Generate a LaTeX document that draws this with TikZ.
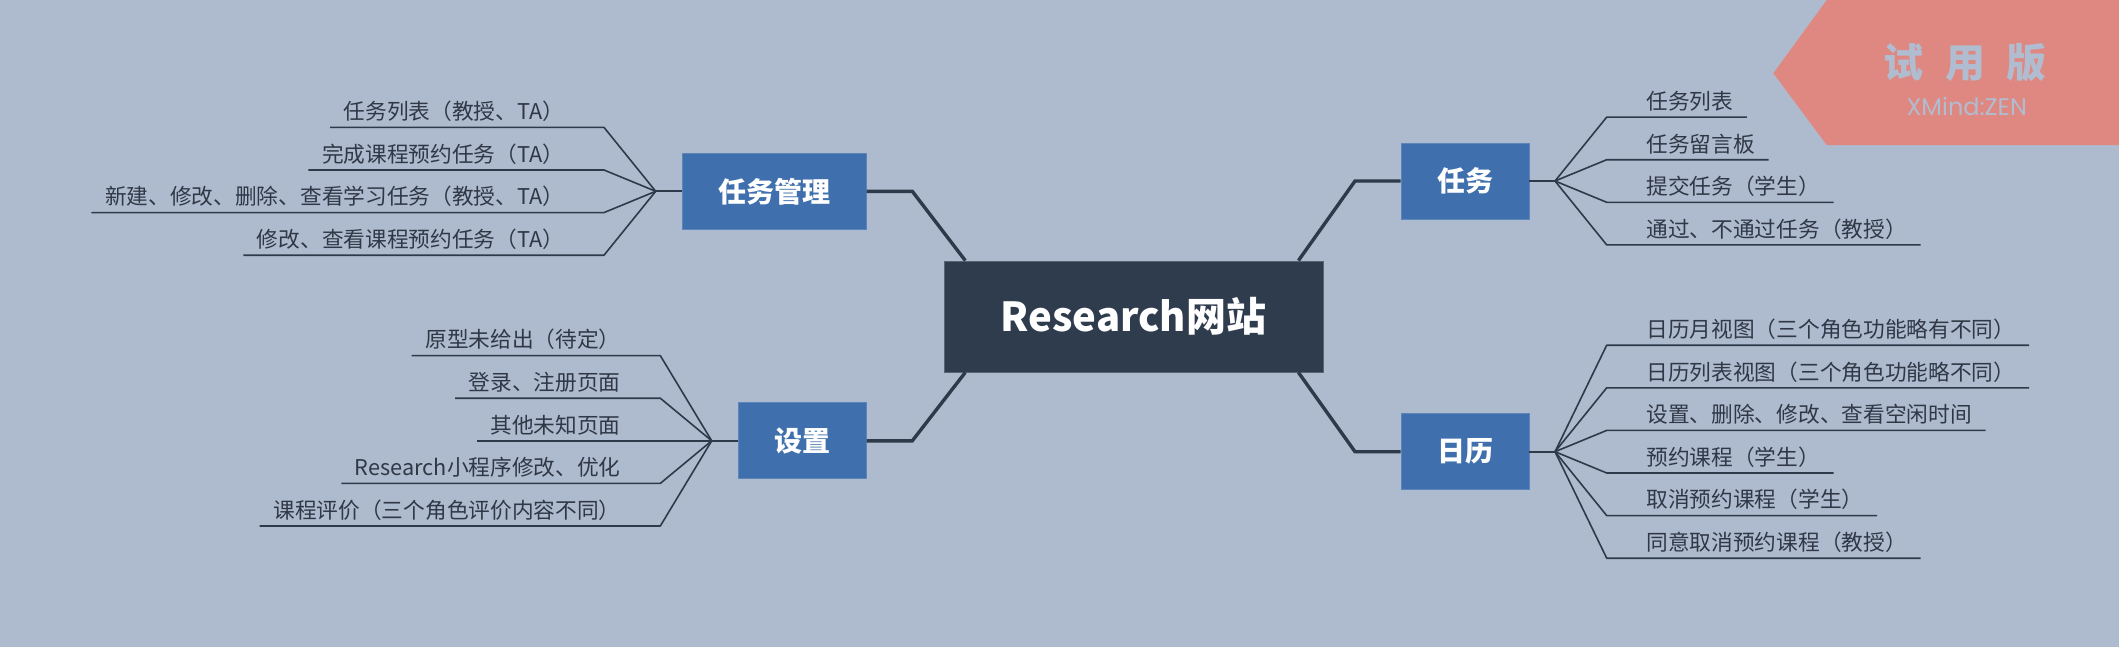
\documentclass[tikz,border=0pt]{standalone}
\usepackage{fontspec}
\setmainfont{Noto Sans CJK SC}
\newfontfamily\wmfont{Poppins}
\definecolor{bg}{RGB}{174,187,207}
\definecolor{central}{RGB}{47,60,78}
\definecolor{branch}{RGB}{63,112,173}
\definecolor{linec}{RGB}{46,57,74}
\definecolor{leaftext}{RGB}{48,56,70}
\definecolor{wm}{RGB}{223,136,129}
\definecolor{wmtxt}{RGB}{176,189,208}
\tikzset{
  centralbox/.style={fill=central, draw=central!80!white, line width=0.4pt, text=white, inner sep=0pt,
    minimum width=189.5pt, minimum height=55.5pt, font=\bfseries\fontsize{20}{24}\selectfont},
  branchbox/.style={fill=branch, draw=branch!85!white, line width=0.4pt, text=white, inner sep=0pt,
    minimum height=38pt, font=\bfseries\fontsize{14}{17}\selectfont},
  leaf/.style={inner xsep=6.65pt, inner ysep=0pt, text depth=3.65pt, text height=8.5pt,
    text=leaftext, font=\fontsize{10.85}{13}\selectfont},
  leafline/.style={draw=linec, line width=0.8pt, line join=round},
  mainline/.style={draw=linec, line width=1.7pt, line join=miter},
  hubline/.style={draw=linec, line width=1.1pt},
  wmtext/.style={text=wmtxt, inner sep=0pt}
}
\begin{document}
\begin{tikzpicture}[x=0.5pt,y=-0.5pt]
\fill[bg] (0,0) rectangle (2119,647);
\useasboundingbox (0,0) rectangle (2119,647);

% watermark
\fill[wm] (1773.3,73.3) -- (1826.7,0) -- (2119,0) -- (2119,145) -- (1826.7,145) -- cycle;
\node[wmtext, font=\bfseries\fontsize{20}{24}\selectfont] (wm1) at (1965,62.5) {试\hspace{10.6pt}用\hspace{10.6pt}版};
\node[wmtext, font=\wmfont\fontsize{12}{14}\selectfont] (wm2) at (1966.7,106) {XMind:ZEN};

% coordinates for main connectors
\coordinate (bA) at (912.3,191.3);
\coordinate (bB) at (1355,181);
\coordinate (bC) at (1355,451.7);
\coordinate (bD) at (912.3,440.8);

% main nodes
\node[centralbox] (c) at (1133.5,316.5) {Research网站};
\node[branchbox, minimum width=92pt] (A) at (774.2,191.3) {任务管理};
\node[branchbox, minimum width=64pt] (B) at (1465,181) {任务};
\node[branchbox, minimum width=64pt] (C) at (1465,451.7) {日历};
\node[branchbox, minimum width=64pt] (D) at (802.2,440.8) {设置};

\draw[mainline] ([xshift=10.85pt]c.north west) -- (bA) -- (A.east);
\draw[mainline] ([xshift=-12.5pt]c.north east) -- (bB) -- (B.west);
\draw[mainline] ([xshift=-12.5pt]c.south east) -- (bC) -- (C.west);
\draw[mainline] ([xshift=10.85pt]c.south west) -- (bD) -- (D.east);

% hubs
\coordinate (hA) at (655.7,191.3);
\coordinate (hB) at (1555,181);
\coordinate (hC) at (1555,451.7);
\coordinate (hD) at (711.7,440.8);
\draw[hubline] (A.west) -- (hA);
\draw[hubline] (B.east) -- (hB);
\draw[hubline] (C.east) -- (hC);
\draw[hubline] (D.west) -- (hD);

% leaves: task management (left top)
\node[leaf, anchor=south east] (a1) at (578,127.4) {任务列表（教授、TA）};
\node[leaf, anchor=south east] (a2) at (578,170.0) {完成课程预约任务（TA）};
\node[leaf, anchor=south east] (a3) at (578,212.6) {新建、修改、删除、查看学习任务（教授、TA）};
\node[leaf, anchor=south east] (a4) at (578,255.2) {修改、查看课程预约任务（TA）};
\foreach \n in {a1,a2,a3,a4}
  \draw[leafline] (hA) -- ([xshift=13pt]\n.south east) -- (\n.south west);

% leaves: settings (left bottom)
\node[leaf, anchor=south east] (d1) at (634.3,355.6) {原型未给出（待定）};
\node[leaf, anchor=south east] (d2) at (634.3,398.2) {登录、注册页面};
\node[leaf, anchor=south east] (d3) at (634.3,440.8) {其他未知页面};
\node[leaf, anchor=south east] (d4) at (634.3,483.4) {Research小程序修改、优化};
\node[leaf, anchor=south east] (d5) at (634.3,526.0) {课程评价（三个角色评价内容不同）};
\foreach \n in {d1,d2,d3,d4,d5}
  \draw[leafline] (hD) -- ([xshift=13pt]\n.south east) -- (\n.south west);

% leaves: task (right top)
\node[leaf, anchor=south west] (b1) at (1632.7,117.1) {任务列表};
\node[leaf, anchor=south west] (b2) at (1632.7,159.7) {任务留言板};
\node[leaf, anchor=south west] (b3) at (1632.7,202.3) {提交任务（学生）};
\node[leaf, anchor=south west] (b4) at (1632.7,244.9) {通过、不通过任务（教授）};
\foreach \n in {b1,b2,b3,b4}
  \draw[leafline] (hB) -- ([xshift=-13pt]\n.south west) -- (\n.south east);

% leaves: calendar (right bottom)
\node[leaf, anchor=south west] (e1) at (1632.7,345.2) {日历月视图（三个角色功能略有不同）};
\node[leaf, anchor=south west] (e2) at (1632.7,387.8) {日历列表视图（三个角色功能略不同）};
\node[leaf, anchor=south west] (e3) at (1632.7,430.4) {设置、删除、修改、查看空闲时间};
\node[leaf, anchor=south west] (e4) at (1632.7,473.0) {预约课程（学生）};
\node[leaf, anchor=south west] (e5) at (1632.7,515.6) {取消预约课程（学生）};
\node[leaf, anchor=south west] (e6) at (1632.7,558.2) {同意取消预约课程（教授）};
\foreach \n in {e1,e2,e3,e4,e5,e6}
  \draw[leafline] (hC) -- ([xshift=-13pt]\n.south west) -- (\n.south east);
\end{tikzpicture}
\end{document}
